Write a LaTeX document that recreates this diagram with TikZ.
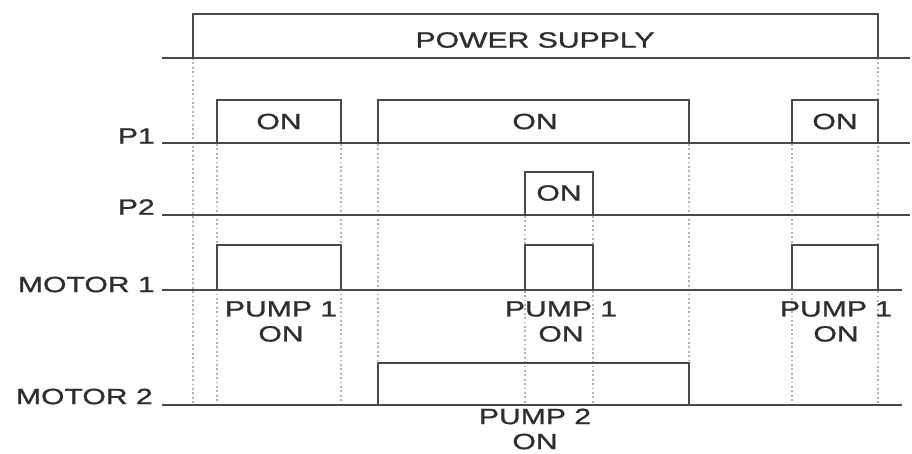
\documentclass[tikz,border=0pt]{standalone}
\usepackage{fontspec}
\setmainfont{Liberation Sans}[FakeStretch=1.37,FakeBold=1.2]
\usepackage{tikz}
\usetikzlibrary{positioning}
\definecolor{trace}{HTML}{4A4A4A}
\definecolor{guideln}{HTML}{B4B4B4}
\definecolor{ink}{HTML}{2E2E2E}

\begin{document}
\begin{tikzpicture}[
  x=0.75pt, y=-0.75pt,
  font=\fontsize{16.5}{18.75}\selectfont,
  sig/.style={draw=trace, line width=1.5pt},
  guide/.style={draw=guideln, line width=1.3pt, dotted},
  lbl/.style={text=ink, inner sep=0pt, align=center},
  rowname/.style={lbl, anchor=east}
  ]
  \useasboundingbox (0,0) rectangle (912,453);
  % dotted guide lines
  \foreach \gx/\gy in {193/14, 217/100, 341/100, 378/100, 525/172, 593/172, 689/100, 792/100, 878/14}
    \draw[guide] (\gx,\gy) -- (\gx,405);
  % power supply
  \draw[sig] (162,58) -- (910,58);
  \draw[sig] (193,58) -- (193,14) -- (878,14) -- (878,58);
  \node[lbl] (ps) at (535,40) {POWER SUPPLY};
  % P1
  \draw[sig] (162,143) -- (910,143);
  \draw[sig] (217,143) |- (341,100) -- (341,143);
  \draw[sig] (378,143) |- (689,100) -- (689,143);
  \draw[sig] (792,143) |- (878,100) -- (878,143);
  \node[rowname] (p1) at (155,136) {P1};
  \node[lbl] (p1a) at (279,121.5) {ON};
  \node[lbl] (p1b) at (535,121.5) {ON};
  \node[lbl] (p1c) at (835,121.5) {ON};
  % P2
  \draw[sig] (162,215) -- (910,215);
  \draw[sig] (525,215) |- (593,172) -- (593,215);
  \node[rowname] (p2) at (155,207) {P2};
  \node[lbl] (p2a) at (559,193) {ON};
  % motor 1
  \draw[sig] (162,290) -- (902,290);
  \draw[sig] (217,290) |- (341,245) -- (341,290);
  \draw[sig] (525,290) |- (593,245) -- (593,290);
  \draw[sig] (792,290) |- (878,245) -- (878,290);
  \node[rowname] (m1) at (155,284.5) {MOTOR 1};
  \node[lbl] (m1a) at (281,321.5) {PUMP 1\\ON};
  \node[lbl] (m1b) at (561,321.5) {PUMP 1\\ON};
  \node[lbl] (m1c) at (836,321.5) {PUMP 1\\ON};
  % motor 2
  \draw[sig] (162,405) -- (902,405);
  \draw[sig] (378,405) |- (689,363) -- (689,405);
  \node[rowname] (m2) at (153,396.5) {MOTOR 2};
  \node[lbl] (m2a) at (535,429) {PUMP 2\\ON};
\end{tikzpicture}
\end{document}
